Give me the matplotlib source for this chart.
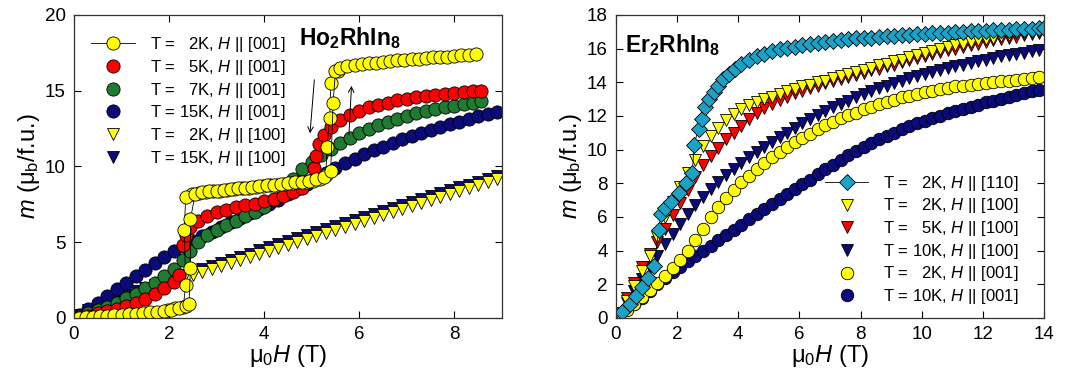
import matplotlib
matplotlib.use("Agg")
import matplotlib.pyplot as plt
from matplotlib.lines import Line2D

plt.rcParams['font.family'] = ['Liberation Sans', 'DejaVu Sans']
plt.rcParams['mathtext.fontset'] = 'custom'
plt.rcParams['mathtext.rm'] = 'Liberation Sans'
plt.rcParams['mathtext.it'] = 'Liberation Sans:italic'
plt.rcParams['mathtext.bf'] = 'Liberation Sans:bold'

# ---------------- Ho2RhIn8 (left) ----------------
# T = 2K, H || [001], field up sweep
ho_2k_001_up_H = [0.1, 0.25, 0.4, 0.55, 0.7, 0.85, 1.0, 1.15, 1.3, 1.45, 1.6, 1.75, 1.9, 2.05, 2.2, 2.35,
                  2.42, 2.45, 2.45, 2.55, 2.7, 2.85, 3.0, 3.15, 3.3, 3.45, 3.6, 3.75, 3.9, 4.05, 4.2, 4.35,
                  4.5, 4.65, 4.8, 4.95, 5.1, 5.25, 5.4, 5.45, 5.5, 5.6, 5.75, 5.9, 6.05, 6.2, 6.35, 6.5,
                  6.65, 6.8, 6.95, 7.1, 7.25, 7.4, 7.55, 7.7, 7.85, 8.0, 8.15, 8.3, 8.45]
ho_2k_001_up_m = [0.02, 0.04, 0.07, 0.1, 0.13, 0.16, 0.2, 0.24, 0.28, 0.32, 0.37, 0.42, 0.48, 0.55, 0.65, 0.8,
                  0.9, 3.3, 6.5, 8.2, 8.3, 8.35, 8.4, 8.45, 8.5, 8.55, 8.6, 8.65, 8.7, 8.75, 8.8, 8.85,
                  8.9, 8.95, 9.0, 9.05, 9.15, 9.3, 9.7, 14.2, 16.3, 16.5, 16.6, 16.7, 16.75, 16.8, 16.85, 16.9,
                  16.95, 17.0, 17.05, 17.1, 17.12, 17.15, 17.2, 17.22, 17.25, 17.3, 17.33, 17.36, 17.4]
# T = 2K, H || [001], field down sweep
ho_2k_001_dn_H = [5.55, 5.4, 5.38, 5.32, 5.3, 5.175, 5.025, 4.875, 4.725, 4.575, 4.425, 4.275, 4.125, 3.975, 3.825,
                  3.675, 3.525, 3.375, 3.225, 3.075, 2.925, 2.775, 2.625, 2.475, 2.35, 2.32, 2.35, 2.3, 2.125, 1.975]
ho_2k_001_dn_m = [16.3, 15.5, 13.2, 11.3, 9.45, 9.2, 9.05, 9.0, 8.95, 8.9, 8.85, 8.8, 8.75, 8.7, 8.65,
                  8.6, 8.55, 8.5, 8.45, 8.4, 8.35, 8.3, 8.25, 8.2, 8.0, 5.8, 2.2, 0.75, 0.65, 0.55]

ho_5k_001_H = [0.1, 0.3, 0.5, 0.7, 0.9, 1.1, 1.3, 1.5, 1.7, 1.9, 2.1, 2.2, 2.3, 2.35, 2.45, 2.6, 2.8, 3.0, 3.2, 3.4,
               3.6, 3.8, 4.0, 4.2, 4.4, 4.6, 4.8, 5.0, 5.05, 5.1, 5.15, 5.25, 5.4, 5.6, 5.8, 6.0, 6.2, 6.4, 6.6,
               6.8, 7.0, 7.2, 7.4, 7.6, 7.8, 8.0, 8.2, 8.4, 8.55]
ho_5k_001_m = [0.05, 0.15, 0.3, 0.45, 0.6, 0.8, 1.0, 1.25, 1.55, 1.95, 2.4, 2.8, 4.8, 5.5, 6.0, 6.4, 6.75, 7.0,
               7.15, 7.3, 7.45, 7.55, 7.7, 7.85, 8.05, 8.3, 8.6, 9.1, 9.9, 10.7, 11.5, 12.1, 12.6, 13.05, 13.4,
               13.65, 13.9, 14.05, 14.2, 14.35, 14.45, 14.55, 14.65, 14.72, 14.8, 14.87, 14.92, 14.97, 15.0]

ho_7k_001_H = [0.1, 0.3, 0.5, 0.7, 0.9, 1.1, 1.3, 1.5, 1.7, 1.9, 2.1, 2.3, 2.45, 2.6, 2.8, 3.0, 3.2, 3.4, 3.6,
               3.8, 4.0, 4.2, 4.4, 4.6, 4.8, 5.0, 5.2, 5.4, 5.6, 5.8, 6.0, 6.2, 6.4, 6.6, 6.8, 7.0, 7.2, 7.4,
               7.6, 7.8, 8.0, 8.2, 8.4, 8.55]
ho_7k_001_m = [0.1, 0.3, 0.5, 0.75, 1.0, 1.3, 1.6, 1.95, 2.3, 2.75, 3.2, 3.8, 4.4, 5.0, 5.45, 5.8, 6.1, 6.4, 6.7,
               7.0, 7.35, 7.8, 8.5, 9.2, 9.8, 10.3, 10.75, 11.15, 11.55, 11.9, 12.2, 12.45, 12.7, 12.95, 13.15,
               13.35, 13.5, 13.65, 13.8, 13.9, 14.0, 14.1, 14.2, 14.3]

ho_grid_H = [0.1, 0.3, 0.5, 0.7, 0.9, 1.1, 1.3, 1.5, 1.7, 1.9, 2.1, 2.3, 2.5, 2.7, 2.9, 3.1, 3.3, 3.5, 3.7, 3.9,
             4.1, 4.3, 4.5, 4.7, 4.9, 5.1, 5.3, 5.5, 5.7, 5.9, 6.1, 6.3, 6.5, 6.7, 6.9, 7.1, 7.3, 7.5, 7.7, 7.9,
             8.1, 8.3, 8.5, 8.7, 8.9]
ho_15k_001_m = [0.2, 0.6, 1.0, 1.45, 1.9, 2.3, 2.75, 3.15, 3.6, 4.0, 4.4, 4.75, 5.1, 5.4, 5.7, 6.0, 6.3, 6.6,
                6.9, 7.2, 7.5, 7.8, 8.15, 8.5, 8.85, 9.2, 9.55, 9.9, 10.2, 10.5, 10.8, 11.05, 11.3, 11.55, 11.8,
                12.0, 12.2, 12.4, 12.6, 12.8, 12.95, 13.1, 13.3, 13.45, 13.6]
ho_2k_100_m = [0.1, 0.35, 0.6, 0.85, 1.05, 1.3, 1.5, 1.75, 1.95, 2.2, 2.4, 2.6, 2.85, 3.0, 3.2, 3.4, 3.6, 3.8,
               4.0, 4.2, 4.4, 4.6, 4.8, 5.0, 5.2, 5.4, 5.6, 5.8, 6.0, 6.2, 6.4, 6.6, 6.8, 7.0, 7.2, 7.4, 7.6,
               7.8, 8.0, 8.2, 8.4, 8.6, 8.8, 9.0, 9.15]
ho_15k_100_m = [0.2, 0.5, 0.8, 1.05, 1.3, 1.5, 1.75, 1.95, 2.2, 2.4, 2.6, 2.85, 3.05, 3.25, 3.45, 3.65, 3.85,
                4.05, 4.25, 4.45, 4.65, 4.85, 5.05, 5.25, 5.45, 5.65, 5.85, 6.05, 6.25, 6.45, 6.65, 6.85, 7.05,
                7.25, 7.45, 7.65, 7.85, 8.05, 8.25, 8.45, 8.65, 8.8, 9.0, 9.2, 9.35]

# ---------------- Er2RhIn8 (right) ----------------
er_2k_110_H = [0.2, 0.45, 0.65, 0.85, 1.05, 1.25, 1.4, 1.47, 1.6, 1.8, 2.05, 2.3, 2.5, 2.55, 2.7, 2.8, 2.9, 3.05,
               3.2, 3.35, 3.5, 3.7, 3.9, 4.1, 4.35, 4.6, 4.85, 5.1, 5.35, 5.6, 5.85, 6.1, 6.35, 6.6, 6.85, 7.1,
               7.35, 7.6, 7.85, 8.1, 8.35, 8.6, 8.85, 9.1, 9.35, 9.6, 9.85, 10.1, 10.35, 10.6, 10.85, 11.1,
               11.35, 11.6, 11.85, 12.1, 12.35, 12.6, 12.85, 13.1, 13.35, 13.6, 13.85, 14.0]
er_2k_110_m = [0.35, 0.8, 1.3, 1.85, 2.4, 3.1, 5.2, 6.2, 6.5, 6.9, 7.4, 8.0, 8.6, 10.3, 11.2, 11.8, 12.5, 13.0,
               13.4, 13.8, 14.2, 14.5, 14.8, 15.1, 15.35, 15.55, 15.7, 15.85, 15.95, 16.05, 16.1, 16.2, 16.3,
               16.35, 16.4, 16.45, 16.5, 16.55, 16.6, 16.62, 16.65, 16.7, 16.72, 16.75, 16.8, 16.82, 16.85,
               16.88, 16.9, 16.92, 16.95, 16.97, 17.0, 17.02, 17.04, 17.06, 17.08, 17.1, 17.12, 17.14, 17.16,
               17.18, 17.2, 17.2]

er_grid_H = [0.1, 0.35, 0.6, 0.85, 1.1, 1.35, 1.6, 1.85, 2.1, 2.35, 2.6, 2.85, 3.1, 3.35, 3.6, 3.85, 4.1, 4.35,
             4.6, 4.85, 5.1, 5.35, 5.6, 5.85, 6.1, 6.35, 6.6, 6.85, 7.1, 7.35, 7.6, 7.85, 8.1, 8.35, 8.6, 8.85,
             9.1, 9.35, 9.6, 9.85, 10.1, 10.35, 10.6, 10.85, 11.1, 11.35, 11.6, 11.85, 12.1, 12.35, 12.6, 12.85,
             13.1, 13.35, 13.6, 13.85]
er_2k_100_m = [0.2, 1.0, 1.9, 2.8, 3.7, 4.8, 6.0, 6.9, 7.8, 8.6, 9.4, 10.2, 10.8, 11.3, 11.75, 12.1, 12.4, 12.65,
               12.85, 13.0, 13.15, 13.3, 13.45, 13.6, 13.75, 13.85, 14.0, 14.1, 14.25, 14.35, 14.5, 14.6, 14.75,
               14.85, 15.0, 15.1, 15.25, 15.35, 15.5, 15.6, 15.75, 15.85, 15.95, 16.1, 16.2, 16.3, 16.4, 16.5,
               16.55, 16.65, 16.75, 16.8, 16.9, 16.95, 17.0, 17.05]
er_5k_100_m = [0.3, 1.2, 2.1, 3.0, 3.8, 4.5, 5.3, 6.1, 6.8, 7.6, 8.4, 9.1, 9.6, 10.1, 10.6, 11.0, 11.4, 11.8,
               12.15, 12.45, 12.7, 12.95, 13.15, 13.35, 13.5, 13.65, 13.8, 13.95, 14.05, 14.2, 14.3, 14.45, 14.55,
               14.7, 14.8, 14.95, 15.05, 15.2, 15.3, 15.45, 15.55, 15.7, 15.8, 15.9, 16.0, 16.1, 16.2, 16.3,
               16.4, 16.5, 16.55, 16.65, 16.7, 16.8, 16.85, 16.9]
er_10k_100_m = [0.25, 0.9, 1.6, 2.3, 3.0, 3.7, 4.4, 5.0, 5.6, 6.2, 6.7, 7.2, 7.65, 8.1, 8.5, 8.85, 9.2, 9.55,
                9.85, 10.15, 10.45, 10.75, 11.0, 11.3, 11.55, 11.8, 12.05, 12.3, 12.5, 12.7, 12.9, 13.1, 13.3,
                13.5, 13.65, 13.8, 13.95, 14.1, 14.25, 14.35, 14.5, 14.6, 14.75, 14.85, 14.95, 15.05, 15.15,
                15.25, 15.35, 15.45, 15.55, 15.6, 15.7, 15.75, 15.85, 15.9]
er_2k_001_m = [0.1, 0.45, 0.85, 1.25, 1.65, 2.05, 2.5, 2.95, 3.45, 3.95, 4.6, 5.3, 6.0, 6.6, 7.1, 7.6, 8.05,
               8.45, 8.85, 9.2, 9.55, 9.85, 10.15, 10.45, 10.7, 10.95, 11.2, 11.45, 11.65, 11.85, 12.05, 12.2,
               12.4, 12.55, 12.7, 12.85, 12.95, 13.1, 13.2, 13.3, 13.4, 13.5, 13.6, 13.65, 13.75, 13.8, 13.85,
               13.9, 13.95, 14.0, 14.05, 14.1, 14.15, 14.2, 14.25, 14.3]
er_10k_001_m = [0.15, 0.5, 0.85, 1.2, 1.6, 2.0, 2.35, 2.7, 3.05, 3.4, 3.7, 4.0, 4.3, 4.6, 4.9, 5.2, 5.5, 5.85,
                6.15, 6.45, 6.75, 7.05, 7.35, 7.65, 7.95, 8.2, 8.55, 8.85, 9.1, 9.4, 9.65, 9.9, 10.15, 10.4,
                10.6, 10.8, 11.0, 11.2, 11.4, 11.55, 11.7, 11.85, 12.0, 12.15, 12.3, 12.4, 12.55, 12.65, 12.8,
                12.9, 13.0, 13.1, 13.25, 13.35, 13.45, 13.55]

YEL = '#ffff00'
RED = '#ff0000'
GRN = '#1f7a32'
NAV = '#0a0a78'
CYN = '#1aa3c6'

fig = plt.figure(figsize=(10.78, 3.92), dpi=100)
ax1 = fig.add_axes([0.0686, 0.189, 0.397, 0.773])
ax2 = fig.add_axes([0.5714, 0.189, 0.397, 0.773])

mk = dict(linestyle='none', markeredgecolor='black', markeredgewidth=0.6)
ln = dict(color='black', linestyle='-', linewidth=0.6, markeredgecolor='black', markeredgewidth=0.6)

# left panel
ax1.plot(ho_grid_H, ho_15k_100_m, marker='v', ms=9, color=NAV, **mk)
ax1.plot(ho_grid_H, ho_2k_100_m, marker='v', ms=9, color=YEL, **mk)
ax1.plot(ho_grid_H, ho_15k_001_m, marker='o', ms=9.5, color=NAV, **mk)
ax1.plot(ho_7k_001_H, ho_7k_001_m, marker='o', ms=9.5, color=GRN, **mk)
ax1.plot(ho_5k_001_H, ho_5k_001_m, marker='o', ms=9.5, color=RED, **mk)
ax1.plot(ho_2k_001_dn_H, ho_2k_001_dn_m, marker='o', ms=9.5, markerfacecolor=YEL, **ln)
ax1.plot(ho_2k_001_up_H, ho_2k_001_up_m, marker='o', ms=9.5, markerfacecolor=YEL, **ln)

ax1.annotate('', xy=(4.96, 12.0), xytext=(5.06, 15.9),
             arrowprops=dict(arrowstyle='->', lw=0.7, color='black'))
ax1.annotate('', xy=(5.84, 15.5), xytext=(5.78, 11.9),
             arrowprops=dict(arrowstyle='->', lw=0.7, color='black'))

ax1.set_xlim(0, 9)
ax1.set_ylim(0, 20)
ax1.set_xticks([0, 2, 4, 6, 8])
ax1.set_yticks([0, 5, 10, 15, 20])
ax1.text(0.525, 0.925, 'Ho$_\\mathbf{2}$RhIn$_\\mathbf{8}$', transform=ax1.transAxes,
         fontsize=16.5, fontweight='bold', va='center', ha='left')

left_labels = ['T =   2K, $H$ || [001]', 'T =   5K, $H$ || [001]', 'T =   7K, $H$ || [001]',
               'T = 15K, $H$ || [001]', 'T =   2K, $H$ || [100]', 'T = 15K, $H$ || [100]']
left_handles = [
    Line2D([], [], marker='o', ms=9.5, markerfacecolor=YEL, **ln),
    Line2D([], [], marker='o', ms=9.5, color=RED, **mk),
    Line2D([], [], marker='o', ms=9.5, color=GRN, **mk),
    Line2D([], [], marker='o', ms=9.5, color=NAV, **mk),
    Line2D([], [], marker='v', ms=9, color=YEL, **mk),
    Line2D([], [], marker='v', ms=9, color=NAV, **mk),
]
ax1.legend(left_handles, left_labels, loc='upper left', bbox_to_anchor=(0.025, 0.955), frameon=False,
           fontsize=12, handlelength=2.6, handletextpad=0.9, labelspacing=0.22, borderaxespad=0)

# right panel
ax2.plot(er_grid_H, er_10k_001_m, marker='o', ms=9, color=NAV, **mk)
ax2.plot(er_grid_H, er_2k_001_m, marker='o', ms=9, color=YEL, **mk)
ax2.plot(er_grid_H, er_10k_100_m, marker='v', ms=9, color=NAV, **mk)
ax2.plot(er_grid_H, er_5k_100_m, marker='v', ms=9, color=RED, **mk)
ax2.plot(er_grid_H, er_2k_100_m, marker='v', ms=9, color=YEL, **mk)
ax2.plot(er_2k_110_H, er_2k_110_m, marker='D', ms=8, markerfacecolor=CYN, **ln)

ax2.set_xlim(0, 14)
ax2.set_ylim(0, 18)
ax2.set_xticks(range(0, 15, 2))
ax2.set_yticks(range(0, 19, 2))
ax2.text(0.02, 0.9, 'Er$_\\mathbf{2}$RhIn$_\\mathbf{8}$', transform=ax2.transAxes,
         fontsize=16.5, fontweight='bold', va='center', ha='left')

right_labels = ['T =   2K, $H$ || [110]', 'T =   2K, $H$ || [100]', 'T =   5K, $H$ || [100]',
                'T = 10K, $H$ || [100]', 'T =   2K, $H$ || [001]', 'T = 10K, $H$ || [001]']
right_handles = [
    Line2D([], [], marker='D', ms=8, markerfacecolor=CYN, **ln),
    Line2D([], [], marker='v', ms=9, color=YEL, **mk),
    Line2D([], [], marker='v', ms=9, color=RED, **mk),
    Line2D([], [], marker='v', ms=9, color=NAV, **mk),
    Line2D([], [], marker='o', ms=9, color=YEL, **mk),
    Line2D([], [], marker='o', ms=9, color=NAV, **mk),
]
ax2.legend(right_handles, right_labels, loc='lower right', bbox_to_anchor=(0.957, 0.017), frameon=False,
           fontsize=12, handlelength=2.6, handletextpad=0.9, labelspacing=0.22, borderaxespad=0)

for ax in (ax1, ax2):
    ax.tick_params(direction='in', top=True, right=True, length=5, width=0.8, labelsize=13.5, pad=6)
    for sp in ax.spines.values():
        sp.set_linewidth(0.9)
        sp.set_color('#333333')
    ax.set_xlabel('μ$_0$$H$ (T)', fontsize=17, labelpad=0)
    ax.set_ylabel('$m$ (μ$_\\mathrm{b}$/f.u.)', fontsize=17, labelpad=2)

fig.savefig('out.png', dpi=100)
